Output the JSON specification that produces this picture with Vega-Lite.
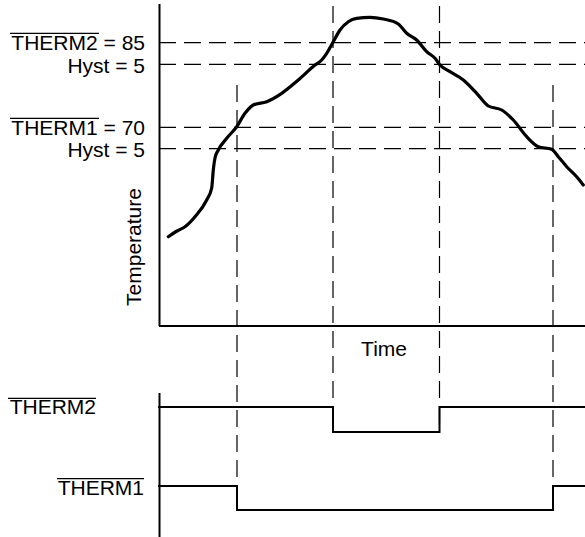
{
  "$schema": "https://vega.github.io/schema/vega-lite/v6.json",
  "width": 585,
  "height": 537,
  "padding": 0,
  "autosize": {"type": "none"},
  "background": "white",
  "config": {"view": {"stroke": null}},
  "datasets": {
    "curve": [
      {"t": 9.3, "v": 89.3}, {"t": 18, "v": 95}, {"t": 26, "v": 99.3}, {"t": 36, "v": 109.3},
      {"t": 47.7, "v": 126}, {"t": 52.7, "v": 138}, {"t": 54.3, "v": 156}, {"t": 56, "v": 168},
      {"t": 59.3, "v": 176}, {"t": 67.7, "v": 187.7}, {"t": 77.7, "v": 199.3}, {"t": 86, "v": 212.7},
      {"t": 94.3, "v": 221}, {"t": 107.7, "v": 224.3}, {"t": 122.7, "v": 232.7}, {"t": 139.3, "v": 246},
      {"t": 156, "v": 261}, {"t": 162.7, "v": 266}, {"t": 167.7, "v": 272.7}, {"t": 174.3, "v": 284.3},
      {"t": 181, "v": 296}, {"t": 189.3, "v": 304.3}, {"t": 197.7, "v": 307.7}, {"t": 211, "v": 308.7},
      {"t": 224.3, "v": 307}, {"t": 239.3, "v": 302}, {"t": 247.7, "v": 292.7}, {"t": 257.7, "v": 286},
      {"t": 267.7, "v": 274.3}, {"t": 276, "v": 267.7}, {"t": 281, "v": 261}, {"t": 291, "v": 254.3},
      {"t": 304.3, "v": 246}, {"t": 317.7, "v": 232.7}, {"t": 329.3, "v": 220}, {"t": 342.7, "v": 216},
      {"t": 354.3, "v": 206}, {"t": 367.7, "v": 189.3}, {"t": 379.3, "v": 179.3}, {"t": 392.7, "v": 176.7},
      {"t": 399.3, "v": 169.3}, {"t": 407.7, "v": 159.3}, {"t": 417.7, "v": 149.3}, {"t": 424.3, "v": 141}
    ],
    "dashes": [
      {"x": 0, "x2": 426, "y": 283.3, "y2": 283.3},
      {"x": 0, "x2": 426, "y": 261.7, "y2": 261.7},
      {"x": 0, "x2": 426, "y": 198.7, "y2": 198.7},
      {"x": 0, "x2": 426, "y": 177.3, "y2": 177.3},
      {"x": 78, "x2": 78, "y": 241, "y2": -184},
      {"x": 174, "x2": 174, "y": 320, "y2": -106},
      {"x": 280.5, "x2": 280.5, "y": 320, "y2": -106},
      {"x": 394, "x2": 394, "y": 241, "y2": -184}
    ],
    "axes": [
      {"x": 0.5, "x2": 0.5, "y": 322, "y2": 0},
      {"x": 0, "x2": 426, "y": 0, "y2": 0},
      {"x": 0.5, "x2": 0.5, "y": -67, "y2": -211}
    ],
    "signals": [
      {"s": "THERM2", "i": 1, "t": 0, "v": -81},
      {"s": "THERM2", "i": 2, "t": 174, "v": -81},
      {"s": "THERM2", "i": 3, "t": 174, "v": -106},
      {"s": "THERM2", "i": 4, "t": 280.5, "v": -106},
      {"s": "THERM2", "i": 5, "t": 280.5, "v": -81},
      {"s": "THERM2", "i": 6, "t": 426, "v": -81},
      {"s": "THERM1", "i": 1, "t": 0, "v": -160},
      {"s": "THERM1", "i": 2, "t": 78, "v": -160},
      {"s": "THERM1", "i": 3, "t": 78, "v": -184},
      {"s": "THERM1", "i": 4, "t": 394, "v": -184},
      {"s": "THERM1", "i": 5, "t": 394, "v": -160},
      {"s": "THERM1", "i": 6, "t": 426, "v": -160}
    ],
    "overlines": [
      {"x": -149, "x2": -60, "y": 292.7, "y2": 292.7},
      {"x": -149, "x2": -60, "y": 207.7, "y2": 207.7},
      {"x": -151, "x2": -63, "y": -72.3, "y2": -72.3},
      {"x": -102, "x2": -15, "y": -152.7, "y2": -152.7}
    ],
    "labelsRight": [
      {"t": -14, "v": 276, "text": "THERM2 = 85"},
      {"t": -14, "v": 253.3, "text": "Hyst = 5"},
      {"t": -14, "v": 191, "text": "THERM1 = 70"},
      {"t": -14, "v": 169.3, "text": "Hyst = 5"},
      {"t": -63, "v": -88.3, "text": "THERM2"},
      {"t": -15, "v": -169, "text": "THERM1"},
      {"t": 248, "v": -30, "text": "Time"}
    ],
    "labelsRot": [
      {"t": -18, "v": 79, "text": "Temperature"}
    ]
  },
  "layer": [
    {
      "data": {"name": "dashes"},
      "mark": {"type": "rule", "color": "black", "strokeWidth": 1.2, "strokeDash": [17, 8]},
      "encoding": {
        "x": {"field": "x", "type": "quantitative", "scale": {"domain": [-159, 426], "nice": false, "zero": false}, "axis": null},
        "x2": {"field": "x2"},
        "y": {"field": "y", "type": "quantitative", "scale": {"domain": [-211, 326], "nice": false, "zero": false}, "axis": null},
        "y2": {"field": "y2"}
      }
    },
    {
      "data": {"name": "axes"},
      "mark": {"type": "rule", "color": "black", "strokeWidth": 2},
      "encoding": {
        "x": {"field": "x", "type": "quantitative", "scale": {"domain": [-159, 426], "nice": false, "zero": false}, "axis": null},
        "x2": {"field": "x2"},
        "y": {"field": "y", "type": "quantitative", "scale": {"domain": [-211, 326], "nice": false, "zero": false}, "axis": null},
        "y2": {"field": "y2"}
      }
    },
    {
      "data": {"name": "overlines"},
      "mark": {"type": "rule", "color": "black", "strokeWidth": 1.3},
      "encoding": {
        "x": {"field": "x", "type": "quantitative", "scale": {"domain": [-159, 426], "nice": false, "zero": false}, "axis": null},
        "x2": {"field": "x2"},
        "y": {"field": "y", "type": "quantitative", "scale": {"domain": [-211, 326], "nice": false, "zero": false}, "axis": null},
        "y2": {"field": "y2"}
      }
    },
    {
      "data": {"name": "signals"},
      "mark": {"type": "line", "color": "black", "strokeWidth": 2, "strokeCap": "square"},
      "encoding": {
        "x": {"field": "t", "type": "quantitative", "scale": {"domain": [-159, 426], "nice": false, "zero": false}, "axis": null},
        "y": {"field": "v", "type": "quantitative", "scale": {"domain": [-211, 326], "nice": false, "zero": false}, "axis": null},
        "detail": {"field": "s"},
        "order": {"field": "i", "type": "quantitative"}
      }
    },
    {
      "data": {"name": "curve"},
      "mark": {"type": "line", "color": "black", "strokeWidth": 3.2, "interpolate": "monotone", "strokeCap": "round"},
      "encoding": {
        "x": {"field": "t", "type": "quantitative", "scale": {"domain": [-159, 426], "nice": false, "zero": false}, "axis": null},
        "y": {"field": "v", "type": "quantitative", "scale": {"domain": [-211, 326], "nice": false, "zero": false}, "axis": null}
      }
    },
    {
      "data": {"name": "labelsRight"},
      "mark": {"type": "text", "align": "right", "baseline": "alphabetic", "font": "Liberation Sans", "fontSize": 21, "color": "black"},
      "encoding": {
        "x": {"field": "t", "type": "quantitative", "scale": {"domain": [-159, 426], "nice": false, "zero": false}, "axis": null},
        "y": {"field": "v", "type": "quantitative", "scale": {"domain": [-211, 326], "nice": false, "zero": false}, "axis": null},
        "text": {"field": "text"}
      }
    },
    {
      "data": {"name": "labelsRot"},
      "mark": {"type": "text", "align": "center", "baseline": "alphabetic", "angle": 270, "font": "Liberation Sans", "fontSize": 21, "color": "black"},
      "encoding": {
        "x": {"field": "t", "type": "quantitative", "scale": {"domain": [-159, 426], "nice": false, "zero": false}, "axis": null},
        "y": {"field": "v", "type": "quantitative", "scale": {"domain": [-211, 326], "nice": false, "zero": false}, "axis": null},
        "text": {"field": "text"}
      }
    }
  ]
}
